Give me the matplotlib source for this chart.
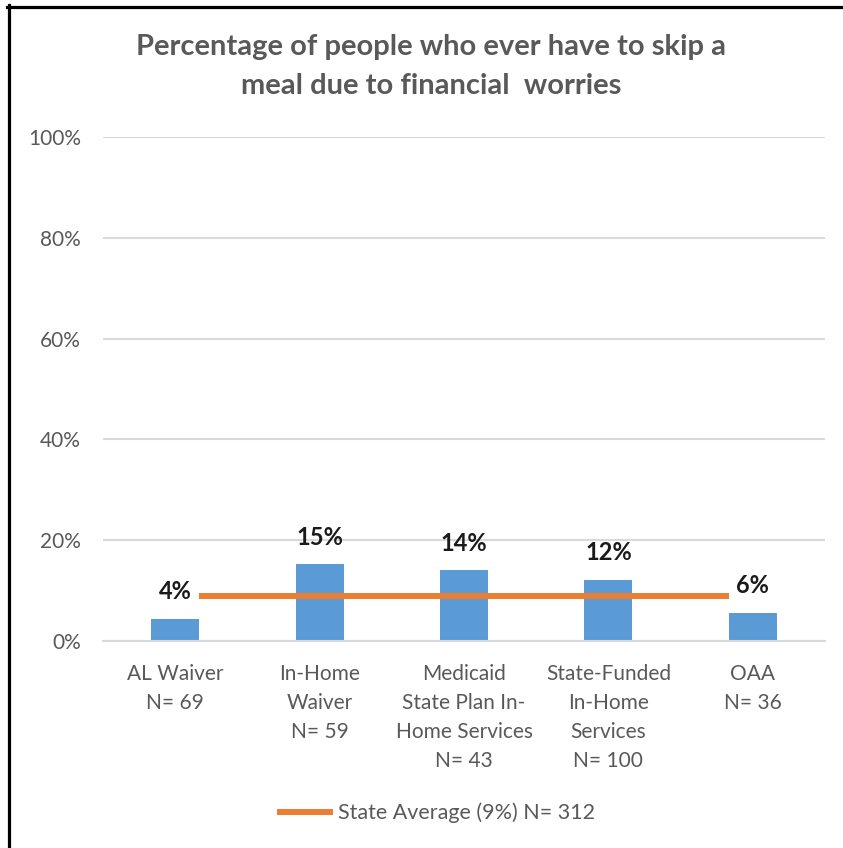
import matplotlib.pyplot as plt
from matplotlib.lines import Line2D
import numpy as np

plt.rcParams['font.family'] = ['Lato', 'DejaVu Sans']

#### Chart data ###############################
categories = ["AL Waiver\nN= 69", "In-Home\nWaiver\nN= 59",
              "Medicaid\nState Plan In-\nHome Services\nN= 43",
              "State-Funded\nIn-Home\nServices\nN= 100", "OAA\nN= 36"]
values = [4.4, 15.2, 14.0, 12.2, 5.6]
value_labels = ["4%", "15%", "14%", "12%", "6%"]
state_avg = 8.9
legend_label = "State Average (9%) N= 312"
title = "Percentage of people who ever have to skip a\nmeal due to financial  worries"
yticks = [0, 20, 40, 60, 80, 100]
###############################################

blue = "#5b9bd5"
orange = "#ed7d31"
gray_txt = "#595959"
grid_col = "#d9d9d9"

fig = plt.figure(figsize=(8.43, 8.48), dpi=100)
ax = fig.add_axes([103/843, 1-641/848, (825-103)/843, (641-137)/848])

x = np.arange(len(values))
bw = 0.332
ax.bar(x, values, width=bw, color=blue, zorder=2)

# state average line spans from first bar's right edge to last bar's left edge
ax.plot([x[0]+bw/2, x[-1]-bw/2], [state_avg, state_avg], color=orange, lw=4.3,
        solid_capstyle='butt', zorder=3, label=legend_label)

for xi, v, lab in zip(x, values, value_labels):
    ax.annotate(lab, (xi, v), xytext=(0, 19.5), textcoords='offset points',
                ha='center', va='center', fontsize=17, fontweight='bold', color='#1a1a1a')

ax.set_xlim(-0.5, len(values)-0.5)
ax.set_ylim(0, 100)
ax.set_yticks(yticks)
ax.set_yticklabels([f"{t}%" for t in yticks])
ax.set_xticks(x)
ax.set_xticklabels(categories, linespacing=1.57)
ax.tick_params(axis='both', length=0, labelsize=15, labelcolor=gray_txt)
ax.tick_params(axis='x', pad=16.5)
ax.tick_params(axis='y', pad=16)
ax.yaxis.grid(True, color=grid_col, lw=1.5, zorder=0)
ax.set_axisbelow(True)
for s in ['top', 'right', 'left']:
    ax.spines[s].set_visible(False)
ax.spines['bottom'].set_color(grid_col)
ax.spines['bottom'].set_linewidth(1.5)

fig.text(431.5/843, 1-66.5/848, title, ha='center', va='center', fontsize=21,
         fontweight='bold', color=gray_txt, linespacing=1.62)

leg = fig.legend(loc='center', bbox_to_anchor=(436/843, 1-813/848), frameon=False,
                 fontsize=15.5, handlelength=2.6, handletextpad=0.25)
for t in leg.get_texts():
    t.set_color(gray_txt)

# black frame on top and left edges
fig.add_artist(Line2D([7/843, 1], [1-6.5/848, 1-6.5/848], color='black', lw=2.3,
                      transform=fig.transFigure))
fig.add_artist(Line2D([8.5/843, 8.5/843], [0, 1-5/848], color='black', lw=2.3,
                      transform=fig.transFigure))

fig.savefig("out.png", dpi=100)
